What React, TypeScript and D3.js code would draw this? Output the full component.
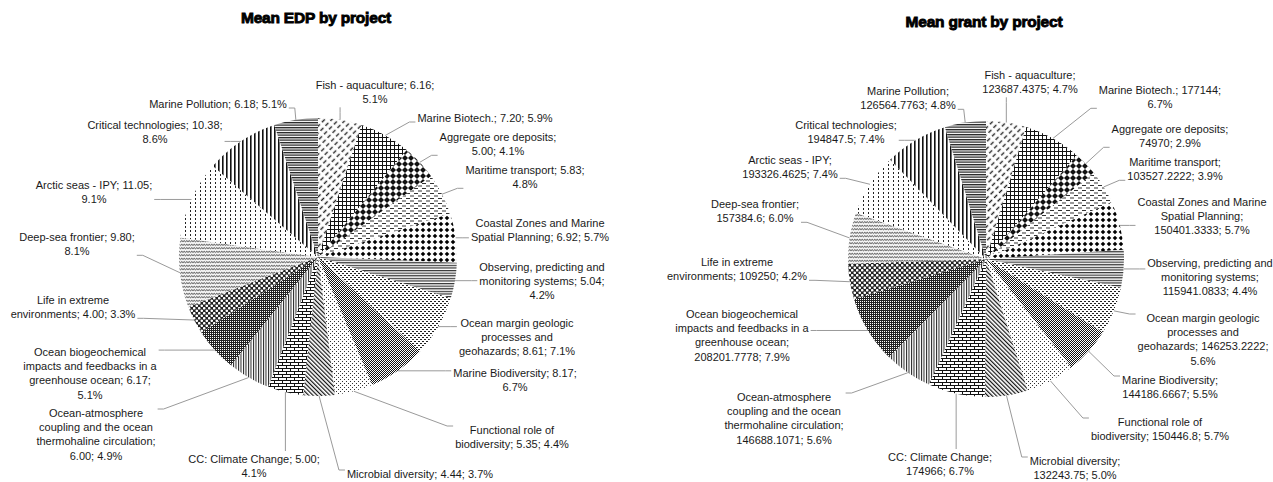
import React from 'react';
import * as d3 from 'd3';

// ---------- DATA ----------
const projects = [
  'Fish - aquaculture',
  'Marine Biotech.',
  'Aggregate ore deposits',
  'Maritime transport',
  'Coastal Zones and Marine Spatial Planning',
  'Observing, predicting and monitoring systems',
  'Ocean margin geologic processes and geohazards',
  'Marine Biodiversity',
  'Functional role of biodiversity',
  'Microbial diversity',
  'CC: Climate Change',
  'Ocean-atmosphere coupling and the ocean thermohaline circulation',
  'Ocean biogeochemical impacts and feedbacks in a greenhouse ocean',
  'Life in extreme environments',
  'Deep-sea frontier',
  'Arctic seas - IPY',
  'Critical technologies',
  'Marine Pollution',
];

const edpValues = [6.16, 7.2, 5.0, 5.83, 6.92, 5.04, 8.61, 8.17, 5.35, 4.44, 5.0, 6.0, 6.17, 4.0, 9.8, 11.05, 10.38, 6.18];

const grantValues = [
  123687.4375, 177144, 74970, 103527.2222, 150401.3333, 115941.0833, 146253.2222, 144186.6667,
  150446.8, 132243.75, 174966, 146688.1071, 208201.7778, 109250, 157384.6, 193326.4625, 194847.5, 126564.7763,
];

const titles = ['Mean EDP by project', 'Mean grant by project'];

// ---------- LAYOUT (not data) ----------
// tokens per wrapped line of each label
const edpWrap = [[4, 1], [4], [3, 2], [3, 1], [4, 4], [3, 3, 1], [3, 2, 3], [3, 1], [3, 3], [4], [4, 1], [1, 4, 2, 2], [2, 5, 3, 1], [3, 3], [3, 1], [5, 1], [3, 1], [4]];
const grantWrap = [[3, 2], [3, 1], [3, 2], [2, 2], [4, 2, 2], [3, 2, 2], [3, 2, 2, 1], [2, 2], [3, 3], [2, 2], [3, 2], [1, 4, 2, 2], [2, 5, 2, 2], [3, 3], [2, 2], [4, 2], [2, 2], [2, 2]];
// label anchor (centre x, first line centre y) offsets from pie centre
const edpLabelPos = [
  [57, -172], [167, -139], [180, -120], [207, -87], [222, -34], [224, 10], [199, 66], [197, 116], [194, 173],
  [102, 217], [-64, 202], [-222, 156], [-228, 95], [-245, 43], [-241, -20], [-224, -72], [-163, -132], [-100, -153],
];
const grantLabelPos = [
  [44, -184], [174, -169], [184, -130], [189, -97], [216, -57], [224, 4], [217, 59], [184, 121], [174, 163],
  [89, 202], [-46, 198], [-202, 138], [-244, 55], [-249, 3], [-231, -55], [-196, -99], [-140, -134], [-78, -168],
];

const W = 1273;
const H = 482;
const FONT = "'Liberation Sans', Arial, Helvetica, sans-serif";
const LINE_H = 14.3;

const pieDefs = [
  { cx: 318, cy: 257, r: 139, values: edpValues, fmt: (v: number) => v.toFixed(2), wrap: edpWrap, pos: edpLabelPos, title: titles[0], ty: 18 },
  { cx: 986, cy: 259, r: 138, values: grantValues, fmt: (v: number) => String(v), wrap: grantWrap, pos: grantLabelPos, title: titles[1], ty: 22 },
];

let measureCtx: CanvasRenderingContext2D | null = null;
function textWidth(s: string): number {
  if (!measureCtx) {
    const c = document.createElement('canvas');
    measureCtx = c.getContext('2d');
  }
  if (!measureCtx) return s.length * 5.5;
  measureCtx.font = `11px ${FONT}`;
  return measureCtx.measureText(s).width;
}

function Patterns({ prefix }: { prefix: string }) {
  const P = (i: number, w: number, h: number, kids: React.ReactNode, transform?: string) => (
    <pattern id={`${prefix}${i}`} key={i} width={w} height={h} patternUnits="userSpaceOnUse" patternTransform={transform}>
      <rect width={w} height={h} fill="#fff" />
      {kids}
    </pattern>
  );
  return (
    <defs>
      {P(0, 7, 5, <path d="M0,2.5 H4.2" stroke="#222" strokeWidth={1.4} />, 'rotate(-45)')}
      {P(1, 4, 4, <path d="M0,0.5 H4 M0.5,0 V4" stroke="#111" strokeWidth={1} />)}
      {P(2, 6, 6, <polygon points="3,0 6,3 3,6 0,3" fill="#111" />)}
      {P(3, 8, 5, <path d="M0,1.5 H4 M4,4 H8" stroke="#333" strokeWidth={1} />)}
      {P(4, 6, 6, <polygon points="3,0.7 5.3,3 3,5.3 0.7,3" fill="#000" />)}
      {P(5, 4, 2.6, <rect x={0} y={0} width={4} height={1.2} fill="#333" />)}
      {P(6, 4, 4, <g fill="#222"><rect x={0} y={0} width={2} height={1} /><rect x={2} y={2} width={2} height={1} /></g>)}
      {P(7, 2, 2, <g fill="#111"><rect x={0} y={0} width={1} height={1} /><rect x={1} y={1} width={1} height={1} /></g>)}
      {P(8, 4, 4, <g fill="#333"><rect x={0} y={0} width={1} height={1} /><rect x={2} y={2} width={1} height={1} /></g>)}
      {P(9, 3, 3, <rect x={0} y={0} width={1.2} height={3} fill="#111" />, 'rotate(-45)')}
      {P(10, 8, 6, <path d="M0,0.5 H8 M0,3.5 H8 M0.5,0.5 V3.5 M4.5,3.5 V6.5" stroke="#111" strokeWidth={1} />)}
      {P(11, 2.5, 4, <rect x={0} y={0} width={1} height={4} fill="#222" />)}
      {P(12, 2, 2, <g><rect width={2} height={2} fill="#222" /><rect x={0} y={0} width={1} height={1} fill="#fff" /></g>)}
      {P(13, 5, 5, <g><rect width={5} height={5} fill="#222" /><circle cx={1.25} cy={1.25} r={1.3} fill="#fff" /><circle cx={3.75} cy={3.75} r={1.3} fill="#fff" /></g>)}
      {P(14, 5, 3.5, <path d="M0,2.8 L1.25,0.8 L2.5,2.8 L3.75,0.8 L5,2.8" stroke="#444" strokeWidth={0.8} fill="none" />)}
      {P(15, 5, 4, <rect x={2} y={1} width={1} height={2} fill="#222" />)}
      {P(16, 4, 4, <rect x={0} y={0} width={1.6} height={4} fill="#111" />)}
      {P(17, 4, 2.5, <rect x={0} y={0} width={4} height={1.3} fill="#222" />)}
    </defs>
  );
}

function wrapLines(text: string, counts: number[]): string[] {
  const tokens = text.split(' ');
  const lines: string[] = [];
  let k = 0;
  counts.forEach((c) => {
    lines.push(tokens.slice(k, k + c).join(' '));
    k += c;
  });
  if (k < tokens.length) lines[lines.length - 1] += ' ' + tokens.slice(k).join(' ');
  return lines;
}

function Pie({ def, idx }: { def: (typeof pieDefs)[number]; idx: number }) {
  const prefix = `pat${idx}_`;
  const total = d3.sum(def.values);
  const arcs = d3.pie<number>().sort(null).value((d) => d)(def.values);
  const arcGen = d3.arc<d3.PieArcDatum<number>>().innerRadius(0).outerRadius(def.r);

  const labels = arcs.map((a, i) => {
    const pct = ((def.values[i] / total) * 100).toFixed(1);
    const text = `${projects[i]}; ${def.fmt(def.values[i])}; ${pct}%`;
    const lines = wrapLines(text, def.wrap[i]);
    const lx = def.cx + def.pos[i][0];
    const ly = def.cy + def.pos[i][1];
    const maxW = d3.max(lines, (l) => textWidth(l)) || 0;
    const x0 = lx - maxW / 2 - 2;
    const x1 = lx + maxW / 2 + 2;
    const y0 = ly - 8;
    const y1 = ly + (lines.length - 1) * LINE_H + 8;
    const mid = (a.startAngle + a.endAngle) / 2;
    const px = def.cx + def.r * Math.sin(mid);
    const py = def.cy - def.r * Math.cos(mid);
    const qx = Math.max(x0, Math.min(x1, px));
    const qy = Math.max(y0, Math.min(y1, py));
    const dist = Math.hypot(qx - px, qy - py);
    let leader: string | null = null;
    if (dist > 5) {
      if (qx === x0 || qx === x1) {
        const sx = qx === x0 ? qx - 6 : qx + 6;
        const ym = Math.max(y0 + 4, Math.min(y1 - 4, py));
        leader = `M${px},${py} L${sx},${ym} L${qx},${ym}`;
      } else {
        const sy = qy === y0 ? qy - 5 : qy + 5;
        leader = `M${px},${py} L${qx},${sy} L${qx},${qy}`;
      }
    }
    return { lines, lx, ly, leader };
  });

  return (
    <g>
      <text x={def.cx - 2} y={def.ty} dy="0.35em" textAnchor="middle" fontFamily={FONT} fontWeight="bold" fontSize={15.5} fill="#000" stroke="#000" strokeWidth={0.9} letterSpacing={-0.2}>
        {def.title}
      </text>
      <g>
        {arcs.map((a, i) => (
          <path key={i} d={arcGen(a) || ''} transform={`translate(${def.cx},${def.cy})`} fill={`url(#${prefix}${i})`} />
        ))}
      </g>
      <g>
        {labels.map((l, i) =>
          l.leader ? <path key={i} d={l.leader} fill="none" stroke="#9a9a9a" strokeWidth={1} /> : null
        )}
      </g>
      <g fontFamily={FONT} fontSize={11} fill="#1a1a1a" textAnchor="middle">
        {labels.map((l, i) => (
          <text key={i}>
            {l.lines.map((ln, j) => (
              <tspan key={j} x={l.lx} y={l.ly + j * LINE_H} dy="0.35em">
                {ln}
              </tspan>
            ))}
          </text>
        ))}
      </g>
    </g>
  );
}

export default function App() {
  return (
    <svg width={W} height={H} viewBox={`0 0 ${W} ${H}`} style={{ position: 'absolute', left: 0, top: 0, background: '#fff', display: 'block' }}>
      <Patterns prefix="pat0_" />
      <Patterns prefix="pat1_" />
      <rect width={W} height={H} fill="#fff" />
      {pieDefs.map((def, i) => (
        <Pie key={i} def={def} idx={i} />
      ))}
    </svg>
  );
}
